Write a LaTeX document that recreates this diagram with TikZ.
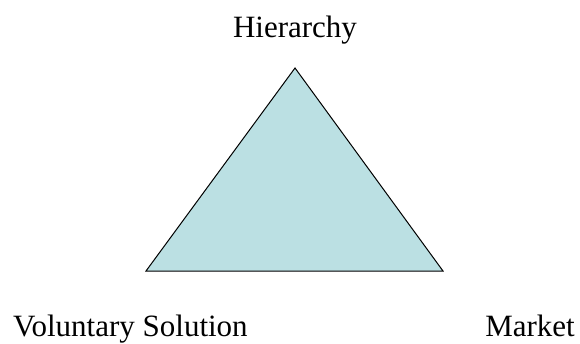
\documentclass[tikz,border=0pt]{standalone}
\usepackage{fontspec}
\setmainfont{Liberation Serif}
\definecolor{trifill}{HTML}{BBE0E3}
\begin{document}
\begin{tikzpicture}[x=1pt,y=-1pt,
  lbl/.style={font=\fontsize{31}{36}\selectfont, inner sep=0pt}]
\useasboundingbox (0,0) rectangle (580,343);
\coordinate (apex) at (295,68);
\coordinate (bl) at (146,271);
\coordinate (br) at (443,271);
\draw[fill=trifill, line width=1pt, line join=miter] (apex) -- (br) -- (bl) -- cycle;
\node[lbl, anchor=base] (hier) at (295,37) {Hierarchy};
\node[lbl, anchor=base west] (vol) at (13,336) {Voluntary Solution};
\node[lbl, anchor=base east] (mkt) at (575,336) {Market};
\end{tikzpicture}
\end{document}
